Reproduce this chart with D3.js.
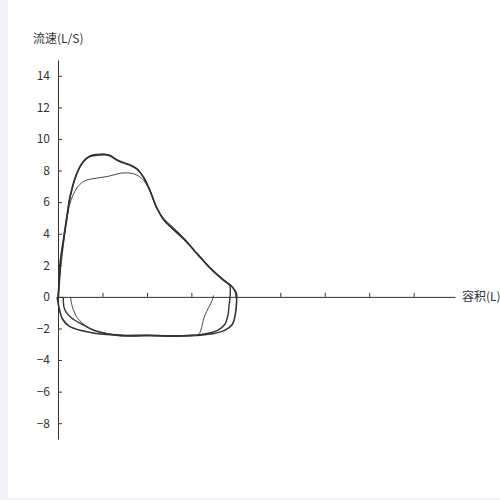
<!DOCTYPE html>
<html>
<head>
<meta charset="utf-8">
<script src="https://cdn.jsdelivr.net/npm/d3@7/dist/d3.min.js"></script>
<style>
  html, body { margin: 0; padding: 0; background: #f3f4f9; }
  svg { display: block; }
  text { font-family: "Noto Sans CJK SC", "Noto Sans", sans-serif; fill: #333; }
</style>
</head>
<body>
<svg></svg>
<script>
var WIDTH = 500;
var HEIGHT = 500;

// axis settings (volume in L, flow in L/s)
var yTicks = [-8, -6, -4, -2, 0, 2, 4, 6, 8, 10, 12, 14];
var xTicks = [1, 2, 3, 4, 5, 6, 7, 8];
var yTitle = '流速(L/S)';
var xTitle = '容积(L)';

// trial 1 - expiration then inspiration (thick)
var trial1 = [
  [0, 0], [0.02, 0.7], [0.045, 2.1], [0.12, 3.6], [0.2, 5.1], [0.27, 6.35], [0.42, 7.8],
  [0.57, 8.56], [0.72, 8.92], [0.9, 9.02], [1.05, 9.03], [1.17, 8.95], [1.3, 8.72],
  [1.42, 8.55], [1.62, 8.36], [1.77, 8.12], [1.92, 7.6], [2.07, 6.72], [2.22, 5.65],
  [2.37, 4.92], [2.52, 4.48], [2.82, 3.7], [3.12, 2.77], [3.42, 1.84], [3.72, 1.08],
  [3.87, 0.76], [3.97, 0.46], [4.02, 0.15], [4.02, 0],
  [4.0, -0.9], [3.92, -1.75], [3.75, -2.12], [3.5, -2.32], [3.2, -2.42], [3.0, -2.44],
  [2.5, -2.47], [2.0, -2.43], [1.5, -2.46], [1.3, -2.42], [0.9, -2.33], [0.55, -2.15],
  [0.25, -1.85], [0.1, -1.4], [0.05, -1.0], [0.01, -0.5], [-0.02, 0]
];

// trial 2 - nearly same as trial 1 (thick)
var trial2 = [
  [0.01, 0], [0.03, 0.8], [0.06, 2.2], [0.13, 3.7], [0.21, 5.2], [0.28, 6.4], [0.43, 7.85],
  [0.58, 8.6], [0.73, 8.9], [0.92, 8.98], [1.06, 9.0], [1.18, 8.92], [1.31, 8.68],
  [1.43, 8.52], [1.63, 8.32], [1.78, 8.08], [1.93, 7.55], [2.08, 6.65], [2.23, 5.58],
  [2.38, 4.88], [2.53, 4.44], [2.83, 3.66], [3.13, 2.72], [3.43, 1.8], [3.72, 1.05],
  [3.86, 0.74], [3.87, 0],
  [3.85, -0.5], [3.82, -1.2], [3.75, -1.75], [3.6, -2.1], [3.35, -2.32], [3.1, -2.44],
  [2.6, -2.5], [2.1, -2.46], [1.6, -2.48], [1.2, -2.38], [0.8, -2.12], [0.57, -1.78],
  [0.3, -1.32], [0.15, -0.8], [0.12, 0]
];

// trial 3 - lower peak (thin)
var trial3 = [
  [0, 0], [0.03, 1.0], [0.1, 2.8], [0.2, 4.87], [0.27, 5.93], [0.42, 6.88], [0.57, 7.3],
  [0.72, 7.45], [0.95, 7.55], [1.17, 7.66], [1.4, 7.83], [1.62, 7.84], [1.77, 7.72],
  [1.92, 7.4], [2.07, 6.7], [2.22, 5.62], [2.4, 4.9], [2.6, 4.38], [2.9, 3.52],
  [3.2, 2.48], [3.42, 1.86], [3.72, 1.1], [3.9, 0.7], [3.98, 0.3], [4.0, 0]
];
var trial3Insp = [
  [3.5, 0.1], [3.47, -0.2], [3.3, -1.2], [3.16, -2.38], [3.0, -2.43], [2.5, -2.45],
  [2.0, -2.42], [1.35, -2.4], [0.95, -2.22], [0.65, -1.88], [0.45, -1.38],
  [0.33, -0.7], [0.28, 0]
];

var svg = d3.select('svg')
  .attr('width', WIDTH)
  .attr('height', HEIGHT);

// white panel on the grey page
svg.append('rect')
  .attr('x', 8).attr('y', -4)
  .attr('width', 500).attr('height', 502)
  .attr('rx', 4)
  .attr('fill', '#fff');

var x = d3.scaleLinear().domain([0, 8.93]).range([58, 455]);
var y = d3.scaleLinear().domain([-9, 15]).range([439, 60]);

// y axis, ticks pointing into the plot, labels on the left
var yAxis = svg.append('g')
  .attr('transform', 'translate(' + x(0) + ',0)')
  .call(d3.axisRight(y).tickValues(yTicks).tickSize(4).tickSizeOuter(0).tickFormat(d3.format('d')));
yAxis.selectAll('text').attr('x', -8).attr('text-anchor', 'end').style('font-size', '12px');

// x axis on flow = 0, ticks upward, no labels
svg.append('g')
  .attr('transform', 'translate(0,' + y(0) + ')')
  .call(d3.axisTop(x).tickValues(xTicks).tickSize(4).tickSizeOuter(0).tickFormat(''));

svg.selectAll('.domain').attr('stroke', '#333');
svg.selectAll('.tick line').attr('stroke', '#333');

svg.append('text')
  .attr('x', 33).attr('y', 43)
  .style('font-size', '12px')
  .text(yTitle);

svg.append('text')
  .attr('x', 462).attr('y', y(0) + 4)
  .style('font-size', '12px')
  .text(xTitle);

var line = d3.line()
  .x(function(d) { return x(d[0]); })
  .y(function(d) { return y(d[1]); })
  .curve(d3.curveCatmullRom);

svg.append('path').datum(trial1)
  .attr('d', line).attr('fill', 'none').attr('stroke', '#333').attr('stroke-width', 1.6);
svg.append('path').datum(trial2)
  .attr('d', line).attr('fill', 'none').attr('stroke', '#333').attr('stroke-width', 1.4);
svg.append('path').datum(trial3)
  .attr('d', line).attr('fill', 'none').attr('stroke', '#333').attr('stroke-width', 0.9);
svg.append('path').datum(trial3Insp)
  .attr('d', line).attr('fill', 'none').attr('stroke', '#333').attr('stroke-width', 0.9);
</script>
</body>
</html>
